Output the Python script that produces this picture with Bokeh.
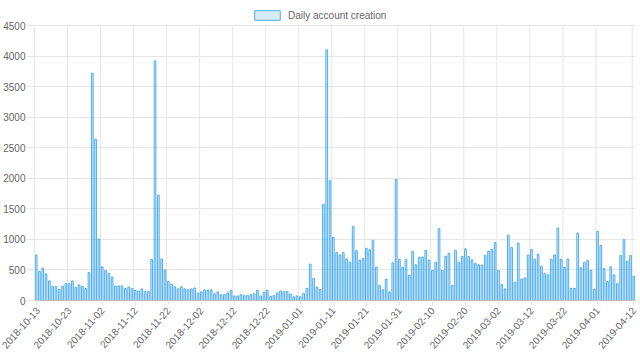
import pandas as pd
from bokeh.plotting import figure
from bokeh.models import Range1d, FixedTicker, Legend, LegendItem, ColumnDataSource
from bokeh.embed import file_html
from bokeh.resources import INLINE

series_name = "Daily account creation"
start_date = "2018-10-13"
counts = [
    745, 475, 530, 435, 320, 230, 230, 180, 235, 280,
    275, 320, 215, 255, 230, 195, 455, 3720, 2640, 1005,
    550, 490, 445, 385, 235, 240, 240, 195, 220, 195,
    165, 155, 190, 145, 145, 670, 3920, 1720, 680, 500,
    310, 265, 225, 190, 225, 190, 175, 190, 205, 120,
    140, 175, 165, 175, 110, 140, 95, 95, 125, 165,
    75, 75, 95, 80, 80, 95, 110, 165, 75, 135,
    165, 70, 80, 125, 155, 145, 145, 105, 60, 75,
    60, 115, 200, 595, 360, 220, 180, 1570, 4100, 1960,
    1035, 785, 745, 785, 680, 625, 1210, 815, 660, 685,
    855, 830, 985, 545, 245, 175, 350, 140, 615, 1980,
    670, 545, 670, 415, 800, 585, 710, 710, 820, 660,
    490, 625, 1175, 490, 725, 775, 250, 820, 625, 720,
    845, 720, 665, 605, 585, 580, 735, 805, 835, 945,
    490, 260, 190, 1070, 865, 300, 940, 350, 370, 745,
    835, 670, 760, 560, 445, 420, 675, 745, 1185, 670,
    540, 680, 200, 200, 1105, 535, 620, 655, 495, 185,
    1130, 900, 520, 310, 550, 420, 275, 735, 995, 645,
    735, 400,
]
tick_labels = [
    "2018-10-13", "2018-10-23", "2018-11-02", "2018-11-12", "2018-11-22",
    "2018-12-02", "2018-12-12", "2018-12-22", "2019-01-01", "2019-01-11",
    "2019-01-21", "2019-01-31", "2019-02-10", "2019-02-20", "2019-03-02",
    "2019-03-12", "2019-03-22", "2019-04-01", "2019-04-12",
]
y_ticks = [0, 500, 1000, 1500, 2000, 2500, 3000, 3500, 4000, 4500]

days = pd.date_range(start_date, periods=len(counts)).strftime("%Y-%m-%d").tolist()
idx = list(range(len(days)))
source = ColumnDataSource(dict(i=idx, day=days, count=counts))

FONT = "Liberation Sans"
GRID = "#e6e6e6"
TXT = "#666666"

# frame: 295 px tall; the top tick (4500) sits 20 px below the frame top,
# leaving room for the legend inside the frame
FRAME_TOP, FRAME_BOTTOM, TICK_TOP = 5, 300, 25
y_end = y_ticks[-1] * (FRAME_BOTTOM - FRAME_TOP) / (FRAME_BOTTOM - TICK_TOP)

p = figure(width=640, height=361, output_backend="svg", toolbar_location=None,
           x_range=Range1d(-0.5, len(days) - 0.5),
           y_range=Range1d(y_ticks[0], y_end),
           min_border_left=34, min_border_right=5, min_border_top=FRAME_TOP,
           min_border_bottom=361 - FRAME_BOTTOM)
p.outline_line_color = None
p.background_fill_color = "white"
p.border_fill_color = "white"

tick_idx = [days.index(t) for t in tick_labels]
grid_x = [i - 0.5 for i in tick_idx]
p.segment(x0=grid_x, y0=[y_ticks[0]] * len(grid_x), x1=grid_x,
          y1=[y_ticks[-1]] * len(grid_x), line_color=GRID, line_width=1)
p.xgrid.visible = False

r = p.vbar(x="i", top="count", bottom=0, width=0.52, source=source,
           fill_color="#36a2eb", fill_alpha=0.2,
           line_color="#36a2eb", line_width=1, line_alpha=0.85)

p.xaxis.ticker = FixedTicker(ticks=tick_idx)
p.xaxis.major_label_overrides = {i: t for i, t in zip(tick_idx, tick_labels)}
p.xaxis.major_label_orientation = 0.84
p.xaxis.axis_line_color = "#bfbfbf"
p.xaxis.major_tick_line_color = GRID
p.xaxis.major_tick_out = 5
p.xaxis.major_tick_in = 0
p.xaxis.minor_tick_line_color = None
p.xaxis.major_label_standoff = 3

p.yaxis.ticker = FixedTicker(ticks=y_ticks)
p.yaxis.bounds = (y_ticks[0], y_ticks[-1])
p.yaxis.axis_line_color = GRID
p.yaxis.major_tick_line_color = GRID
p.yaxis.major_tick_out = 8
p.yaxis.major_tick_in = 0
p.yaxis.minor_tick_line_color = None
p.yaxis.major_label_standoff = 1
p.ygrid.ticker = FixedTicker(ticks=y_ticks)
p.ygrid.grid_line_color = GRID

for ax in (p.xaxis, p.yaxis):
    ax.major_label_text_font = FONT
    ax.major_label_text_font_size = "10px"
    ax.major_label_text_color = TXT

legend = Legend(items=[LegendItem(label=series_name, renderers=[r])],
                location=(217, 279), orientation="horizontal",
                padding=0, margin=0, spacing=0,
                glyph_width=32, glyph_height=12, label_height=12,
                label_standoff=5, label_text_font=FONT,
                label_text_font_size="10px", label_text_color=TXT,
                background_fill_alpha=0, border_line_alpha=0)
p.add_layout(legend, "center")

open("out.html", "w").write(file_html(p, INLINE))
